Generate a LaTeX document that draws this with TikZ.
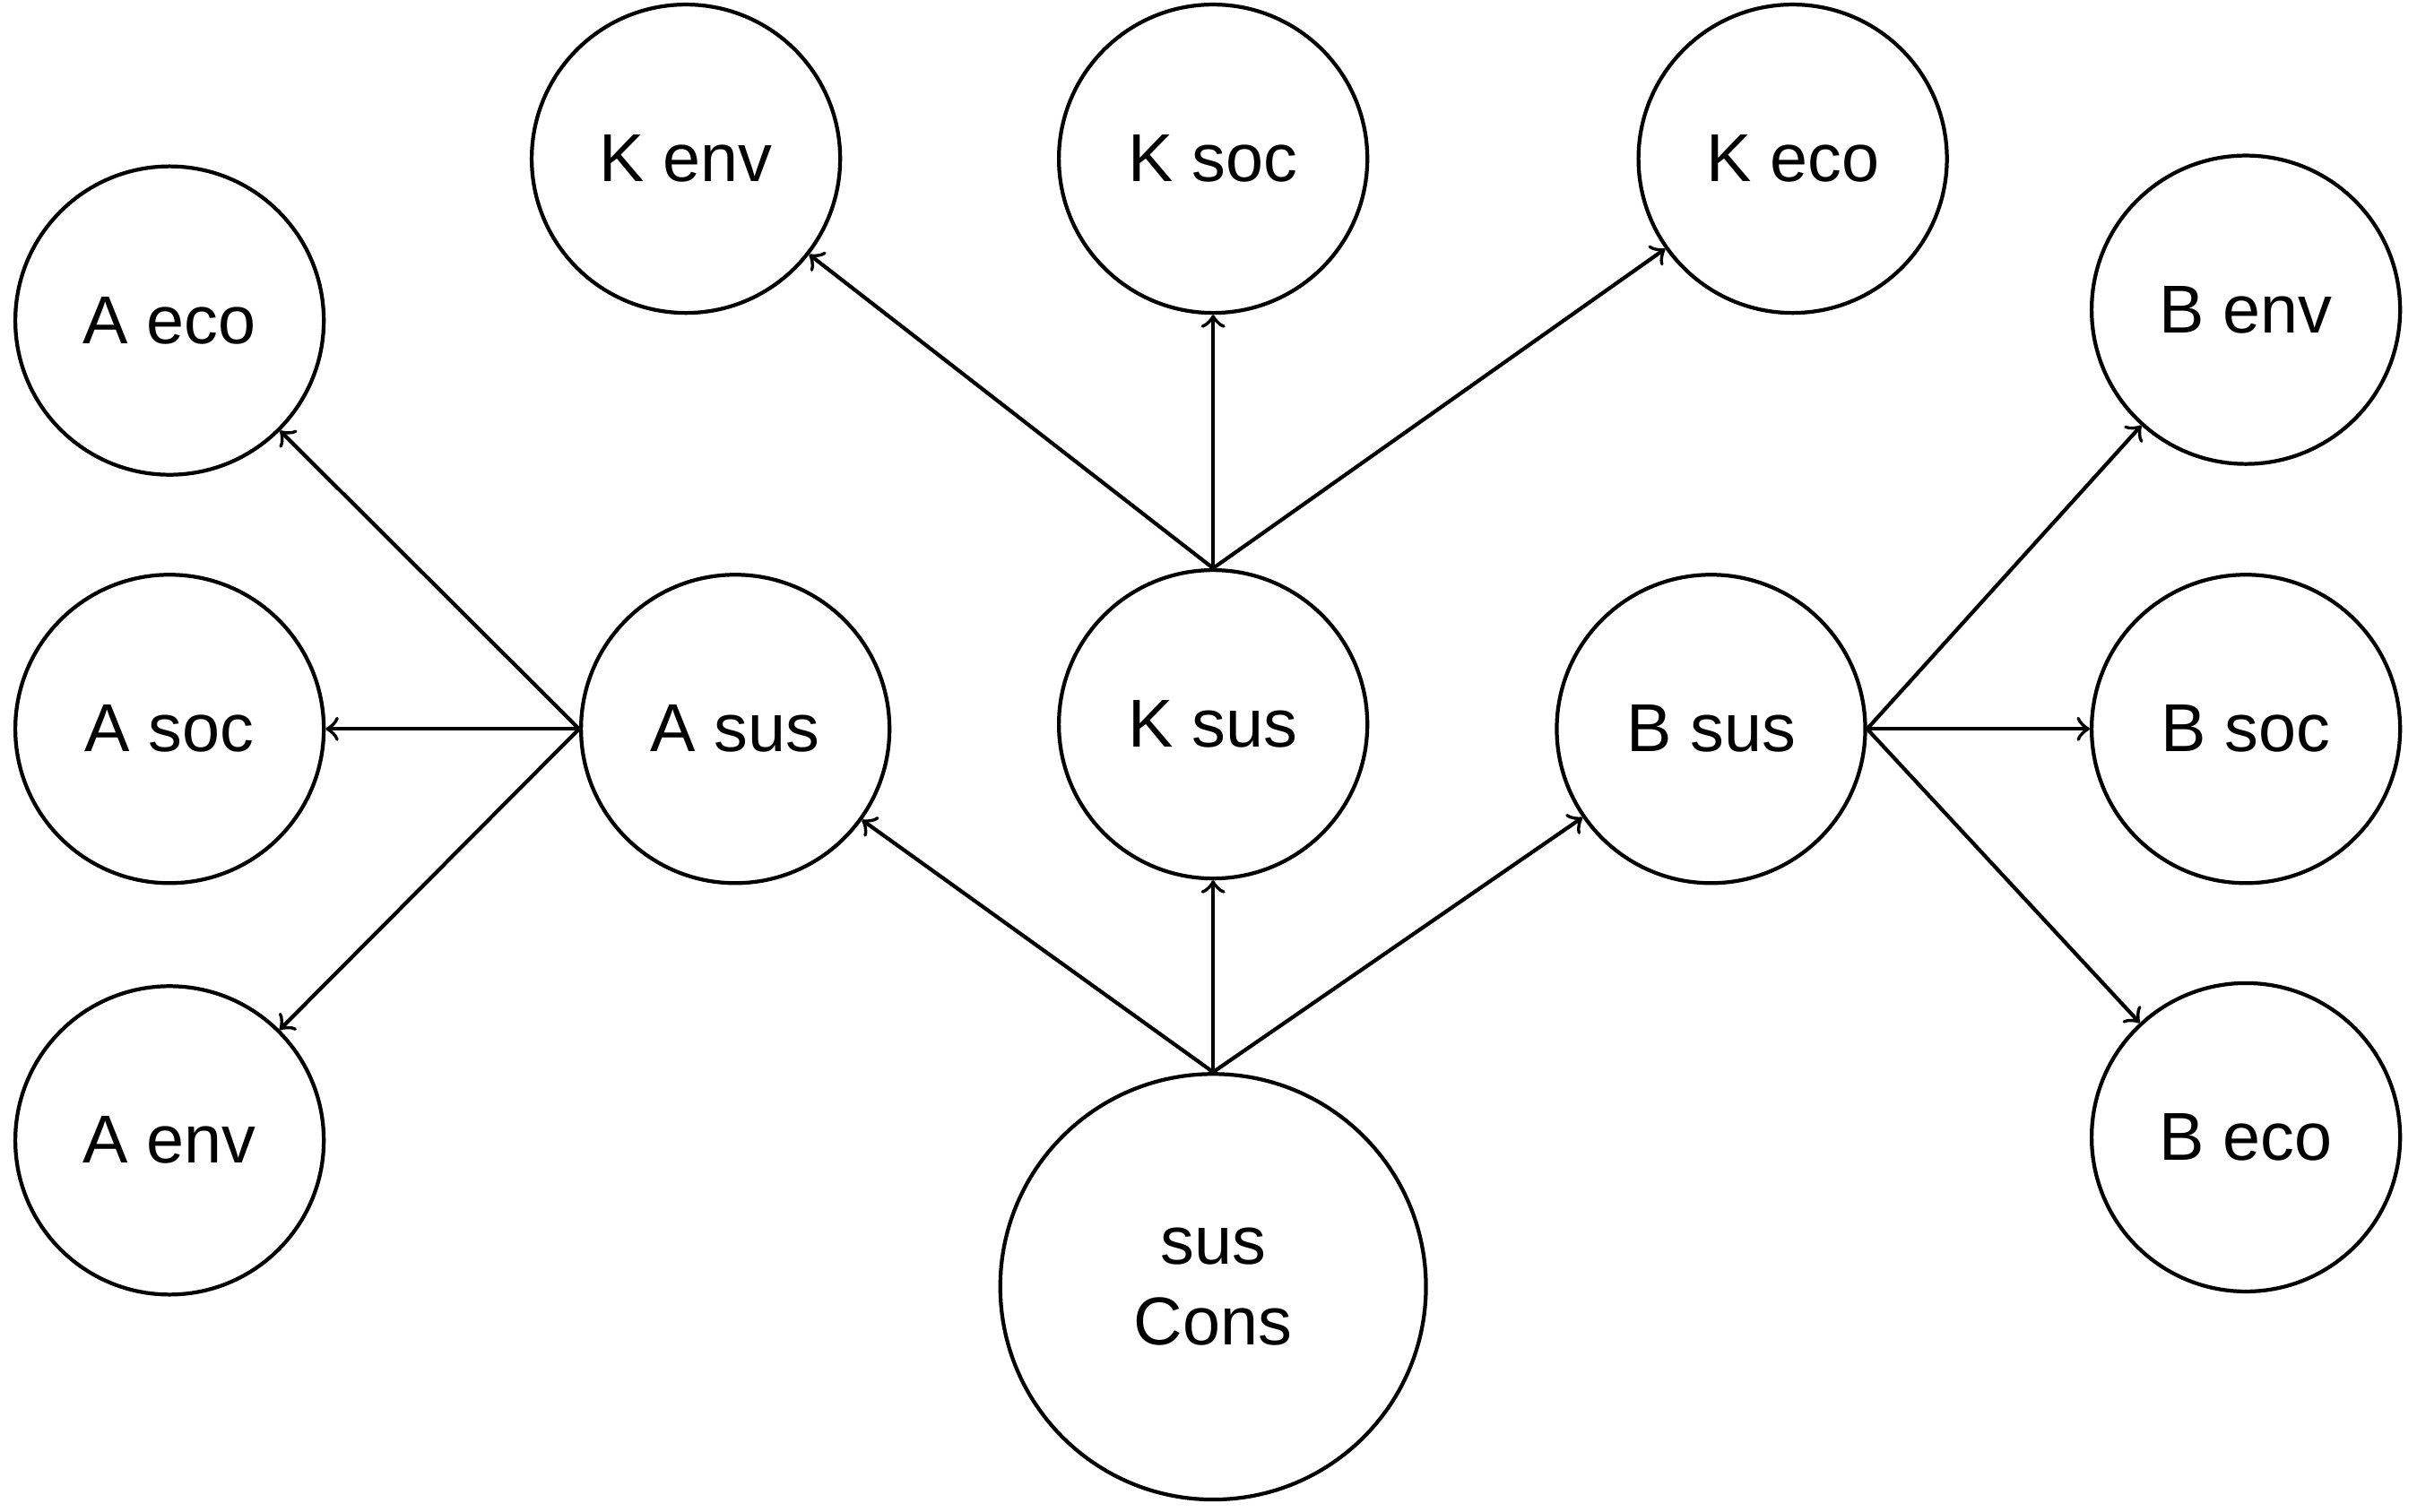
\documentclass[tikz,border=0pt]{standalone}
\usepackage{fontspec}
\setmainfont{Liberation Sans}
\begin{document}
\begin{tikzpicture}[x=0.01cm,y=-0.01cm,
  c/.style={circle,draw,line width=0.7pt,minimum size=2cm,inner sep=0pt,font=\fontsize{12.5}{15}\selectfont,align=center},
  a/.style={->,line width=0.7pt,>=to}]
\useasboundingbox (0,0) rectangle (1568,981);
\node[c] (aeco) at (110,208) {A eco};
\node[c] (asoc) at (110,473) {A soc};
\node[c] (aenv) at (110,740) {A env};
\node[c] (asus) at (477,473) {A sus};
\node[c] (ksus) at (787,470) {K sus};
\node[c] (bsus) at (1110,473) {B sus};
\node[c] (kenv) at (445,103) {K env};
\node[c] (ksoc) at (787,103) {K soc};
\node[c] (keco) at (1163,103) {K eco};
\node[c] (benv) at (1457,201) {B env};
\node[c] (bsoc) at (1457,473) {B soc};
\node[c] (beco) at (1457,738) {B eco};
\node[c,minimum size=2.76cm] (cons) at (787,835) {sus\\Cons};
\draw[a] (cons.north) -- (asus);
\draw[a] (cons.north) -- (ksus);
\draw[a] (cons.north) -- (bsus);
\draw[a] (asus.west) -- (aeco);
\draw[a] (asus.west) -- (asoc);
\draw[a] (asus.west) -- (aenv);
\draw[a] (ksus.north) -- (kenv);
\draw[a] (ksus.north) -- (ksoc);
\draw[a] (ksus.north) -- (keco);
\draw[a] (bsus.east) -- (benv);
\draw[a] (bsus.east) -- (bsoc);
\draw[a] (bsus.east) -- (beco);
\end{tikzpicture}
\end{document}
